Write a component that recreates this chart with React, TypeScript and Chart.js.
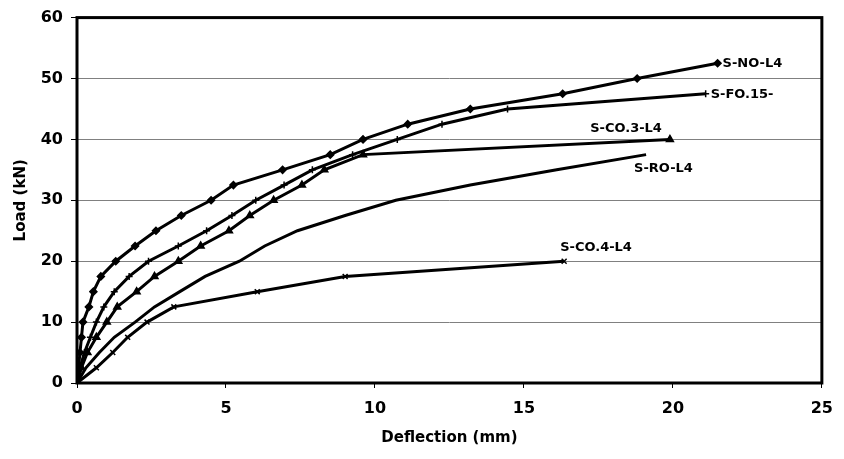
import React, { useEffect, useRef } from 'react';
import { Chart, registerables } from 'chart.js';

Chart.register(...registerables);

// ---- Data (Deflection in mm, Load in kN) ----
const seriesNames = ['S-NO-L4', 'S-FO.15-', 'S-CO.3-L4', 'S-RO-L4', 'S-CO.4-L4'];

const noX = [0, 0.05, 0.1, 0.15, 0.2, 0.4, 0.55, 0.8, 1.3, 1.95, 2.65, 3.5, 4.5, 5.25, 6.9, 8.5, 9.6, 11.1, 13.2, 16.3, 18.8, 21.5];
const noY = [0, 2.5, 5, 7.5, 10, 12.5, 15, 17.5, 20, 22.5, 25, 27.5, 30, 32.5, 35, 37.5, 40, 42.5, 45, 47.5, 50, 52.5];

const foX = [0, 0.1, 0.25, 0.45, 0.65, 0.9, 1.25, 1.75, 2.4, 3.4, 4.35, 5.2, 6.0, 6.95, 7.9, 9.25, 10.75, 12.25, 14.45, 21.1];
const foY = [0, 2.5, 5, 7.5, 10, 12.5, 15, 17.5, 20, 22.5, 25, 27.5, 30, 32.5, 35, 37.5, 40, 42.5, 45, 47.5];

const co3X = [0, 0.15, 0.35, 0.65, 1.0, 1.35, 2.0, 2.6, 3.4, 4.15, 5.1, 5.8, 6.6, 7.55, 8.3, 9.6, 19.9];
const co3Y = [0, 2.5, 5, 7.5, 10, 12.5, 15, 17.5, 20, 22.5, 25, 27.5, 30, 32.5, 35, 37.5, 40];

const roX = [0, 0.3, 0.75, 1.25, 1.95, 2.6, 3.45, 4.3, 5.45, 6.3, 7.4, 9.0, 10.7, 13.2, 16.1, 19.1];
const roY = [0, 2.5, 5, 7.5, 10, 12.5, 15, 17.5, 20, 22.5, 25, 27.5, 30, 32.5, 35, 37.5];

const co4X = [0, 0.65, 1.2, 1.7, 2.35, 3.25, 6.05, 9.0, 16.35];
const co4Y = [0, 2.5, 5, 7.5, 10, 12.5, 15, 17.5, 20];

const xTicksMax = 25;
const yTicksMax = 60;

// ---- Styles ----
const FONT = 'DejaVu Sans';
const markerStyles: any[] = ['rectRot', 'cross', 'triangle', 'circle', 'crossRot'];
const markerRadius = [3.5, 3.5, 4, 0, 3.5];
const labelOffsets = [
  { dx: 5, dy: 0, align: 'left' },
  { dx: 5, dy: 1, align: 'left' },
  { dx: -8, dy: -11, align: 'right' },
  { dx: -12, dy: 14, align: 'left' },
  { dx: -4, dy: -14, align: 'left' },
];

const toPts = (xs: number[], ys: number[]) => xs.map((x, i) => ({ x, y: ys[i] }));

export default function App() {
  const ref = useRef<HTMLCanvasElement | null>(null);

  useEffect(() => {
    if (!ref.current) return;
    const allX = [noX, foX, co3X, roX, co4X];
    const allY = [noY, foY, co3Y, roY, co4Y];

    const frame = {
      id: 'frame',
      afterDatasetsDraw(chart: any) {
        const { ctx, chartArea: a } = chart;
        ctx.save();
        ctx.strokeStyle = '#000';
        ctx.lineWidth = 3;
        ctx.strokeRect(a.left, a.top, a.right - a.left, a.bottom - a.top);
        ctx.restore();
      },
      afterDraw(chart: any) {
        const { ctx } = chart;
        ctx.save();
        ctx.fillStyle = '#000';
        ctx.font = `bold 13px "${FONT}"`;
        ctx.textBaseline = 'middle';
        seriesNames.forEach((name, i) => {
          const meta = chart.getDatasetMeta(i);
          const last = meta.data[meta.data.length - 1];
          const o = labelOffsets[i];
          ctx.textAlign = o.align;
          ctx.fillText(name, last.x + o.dx, last.y + o.dy);
        });
        ctx.restore();
      },
    };

    const tickFont = { family: FONT, weight: 'bold' as const, size: 16 };
    const titleFont = { family: FONT, weight: 'bold' as const, size: 15 };

    const chart = new Chart(ref.current, {
      type: 'line',
      data: {
        datasets: seriesNames.map((name, i) => ({
          label: name,
          data: toPts(allX[i], allY[i]),
          borderColor: '#000',
          backgroundColor: '#000',
          borderWidth: 3,
          pointStyle: markerStyles[i],
          pointRadius: markerRadius[i],
          pointBorderWidth: 1.5,
          pointBorderColor: '#000',
          pointBackgroundColor: '#000',
          tension: 0,
          fill: false,
        })),
      },
      options: {
        responsive: false,
        animation: false,
        layout: { padding: { left: 0, right: 12, top: 17, bottom: 0 } },
        plugins: {
          legend: { display: false },
          tooltip: { enabled: false },
        },
        scales: {
          x: {
            type: 'linear',
            min: 0,
            max: xTicksMax,
            ticks: { stepSize: 5, color: '#000', font: tickFont, padding: 11 },
            grid: { drawOnChartArea: false, tickLength: 5, color: '#000', lineWidth: 1 },
            border: { display: false },
            title: {
              display: true,
              text: 'Deflection (mm)',
              color: '#000',
              font: titleFont,
              padding: { top: 0, bottom: 12 },
            },
            afterFit: (s: any) => { s.height = 76; },
          },
          y: {
            type: 'linear',
            min: 0,
            max: yTicksMax,
            ticks: { stepSize: 10, color: '#000', font: tickFont, padding: 8 },
            grid: { color: '#808080', tickColor: '#000', tickLength: 6, lineWidth: 1 },
            border: { display: false },
            title: {
              display: true,
              text: 'Load (kN)',
              color: '#000',
              font: titleFont,
              padding: { top: 12, bottom: 0 },
            },
            afterFit: (s: any) => { s.width = 77; },
          },
        },
      },
      plugins: [frame],
    } as any);

    return () => chart.destroy();
  }, []);

  return (
    <div style={{ position: 'fixed', left: 0, top: 0, width: 844, height: 459, background: '#fff' }}>
      <canvas ref={ref} width={844} height={459} style={{ width: 844, height: 459, display: 'block' }} />
    </div>
  );
}
